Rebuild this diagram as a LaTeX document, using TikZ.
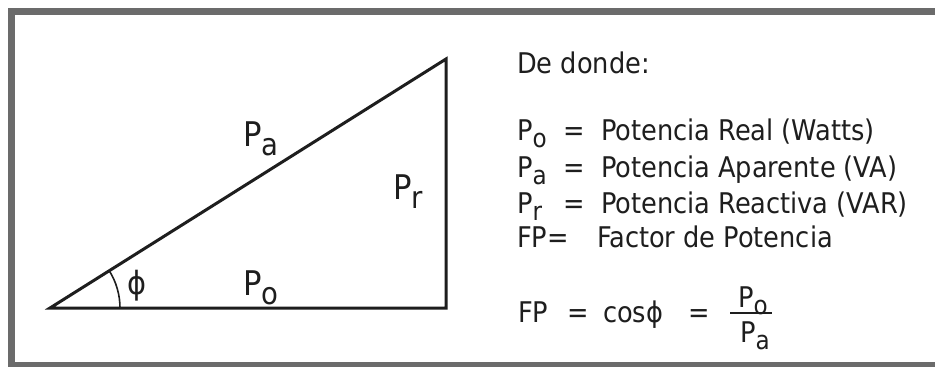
\documentclass[tikz,border=0pt]{standalone}
\usepackage{fontspec}
\IfFontExistsTF{DejaVu Sans Condensed}
  {\setmainfont{DejaVu Sans Condensed}}
  {\setmainfont{DejaVu Sans}[FakeStretch=0.9]}
\newcommand\lowsub[1]{\raisebox{-0.27em}{\scalebox{0.9}{#1}}}
\newcommand\deftxt[3]{\makebox[46pt][l]{#1}\makebox[38pt][l]{#2}#3}
\definecolor{framegray}{HTML}{6B6B6B}
\definecolor{ink}{HTML}{1E1E1E}
\tikzset{
  lbl/.style={inner sep=0pt, anchor=base west, text=ink, font=\fontsize{34}{36}\selectfont},
  txt/.style={inner sep=0pt, anchor=base west, text=ink, font=\fontsize{28.5}{30}\selectfont},
  side/.style={draw=ink, line width=3pt, line join=miter},
}
\begin{document}
\begin{tikzpicture}[x=1pt,y=-1pt]
\useasboundingbox (0,0) rectangle (935,367);
\fill[white] (0,0) rectangle (935,367);
% frame
\draw[framegray, line width=7pt] (945,11.5) -- (11.5,11.5) -- (11.5,365.5) -- (945,365.5);
% triangle
\coordinate (A) at (50,308);
\coordinate (B) at (446,308);
\coordinate (C) at (446,59);
\draw[side] (A) -- (B) -- (C) -- cycle;
\draw[ink, line width=1.6pt] ([xshift=70pt]A) arc[start angle=0, end angle=32.2, radius=70pt];
% triangle labels
\node[lbl] (pa) at (243,146) {P\lowsub{a}};
\node[lbl] (pr) at (393,199) {P\lowsub{r}};
\node[lbl] (po) at (243,295) {P\lowsub{o}};
\node[inner sep=0pt, text=ink, font=\fontsize{32}{34}\selectfont] (phi) at (137,286) {ϕ};
% definitions
\node[txt] (dd) at (517,73) {De donde:};
\node[txt] (r1) at (517,140) {\deftxt{P\lowsub{o}}{=}{Potencia Real (Watts)}};
\node[txt] (r2) at (517,177) {\deftxt{P\lowsub{a}}{=}{Potencia Aparente (VA)}};
\node[txt] (r3) at (517,213) {\deftxt{P\lowsub{r}}{=}{Potencia Reactiva (VAR)}};
\node[txt] (r4) at (517,247) {\makebox[80pt][l]{FP=}Factor de Potencia};
% formula
\node[txt] (fp) at (518,322) {FP};
\node[txt] (eq1) at (567,322) {=};
\node[txt] (cs) at (603,322) {cosϕ};
\node[txt] (eq2) at (688,322) {=};
\node[txt] (num) at (738,307) {P\lowsub{o}};
\node[txt] (den) at (740,342) {P\lowsub{a}};
\coordinate (fl) at (730,313);
\coordinate (fr) at (772,313);
\draw[ink, line width=1.5pt] (fl) -- (fr);
\end{tikzpicture}
\end{document}
